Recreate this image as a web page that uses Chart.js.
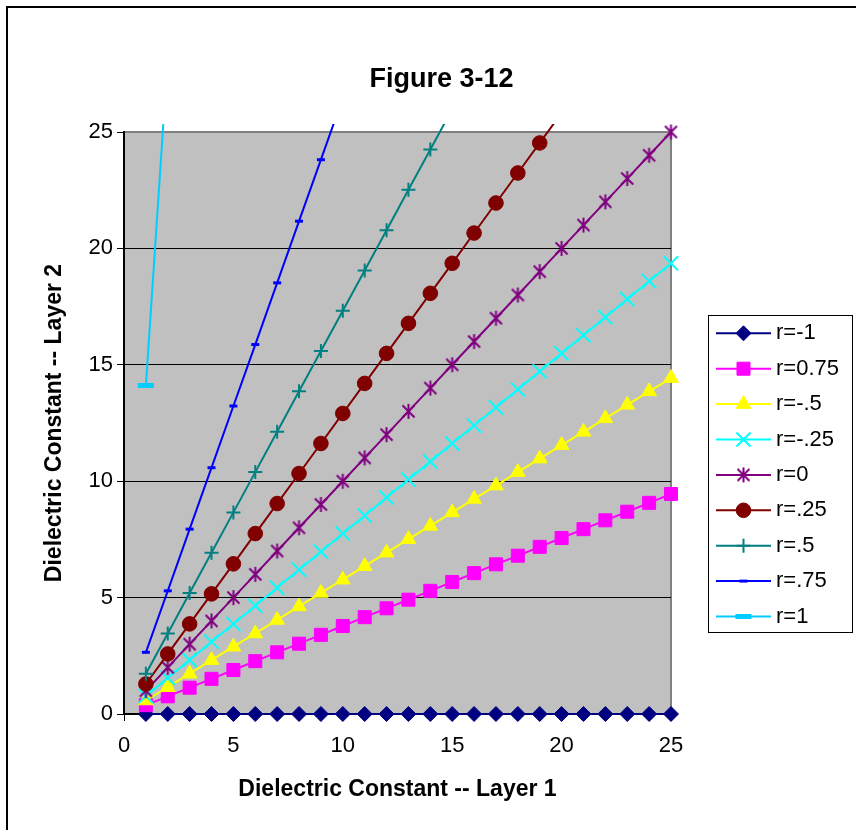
<!DOCTYPE html>
<html><head><meta charset="utf-8">
<script src="https://cdn.jsdelivr.net/npm/chart.js@4/dist/chart.umd.min.js"></script>
<style>html,body{margin:0;padding:0;background:#fff}#wrap{width:856px;height:830px}</style>
</head><body><div id="wrap"><canvas id="c" width="856" height="830"></canvas></div>
<script>
// ---- data ----
const xValues = [1,2,3,4,5,6,7,8,9,10,11,12,13,14,15,16,17,18,19,20,21,22,23,24,25];
const seriesLabels = ['r=-1','r=0.75','r=-.5','r=-.25','r=0','r=.25','r=.5','r=.75','r=1'];
const layer2_rm100 = [0,0,0,0,0,0,0,0,0,0,0,0,0,0,0,0,0,0,0,0,0,0,0,0,0];
const layer2_rm075 = [0.38,0.76,1.13,1.51,1.89,2.27,2.65,3.02,3.40,3.78,4.16,4.54,4.91,5.29,5.67,6.05,6.43,6.80,7.18,7.56,7.94,8.32,8.69,9.07,9.45];
const layer2_rm050 = [0.58,1.15,1.73,2.31,2.89,3.46,4.04,4.62,5.20,5.77,6.35,6.93,7.51,8.08,8.66,9.24,9.81,10.39,10.97,11.55,12.12,12.70,13.28,13.86,14.43];
const layer2_rm025 = [0.77,1.55,2.32,3.10,3.87,4.65,5.42,6.20,6.97,7.75,8.52,9.30,10.07,10.84,11.62,12.39,13.17,13.94,14.72,15.49,16.27,17.04,17.82,18.59,19.36];
const layer2_r000 = [1,2,3,4,5,6,7,8,9,10,11,12,13,14,15,16,17,18,19,20,21,22,23,24,25];
const layer2_r025 = [1.29,2.58,3.87,5.16,6.45,7.75,9.04,10.33,11.62,12.91,14.20,15.49,16.78,18.07,19.36,20.66,21.95,23.24,24.53,25.82,27.11,28.40,29.69,30.98,32.27];
const layer2_r050 = [1.73,3.46,5.20,6.93,8.66,10.39,12.12,13.86,15.59,17.32,19.05,20.78,22.52,24.25,25.98,27.71,29.44,31.18,32.91,34.64,36.37,38.11,39.84,41.57,43.30];
const layer2_r075 = [2.65,5.29,7.94,10.58,13.23,15.87,18.52,21.17,23.81,26.46,29.10,31.75,34.39,37.04,39.69,42.33,44.98,47.62,50.27,52.92,55.56,58.21,60.85,63.50,66.14];
const layer2_r100 = [14.11,28.21,42.32,56.43,70.53,84.64,98.75,112.85,126.96,141.07,155.17,169.28,183.39,197.49,211.60,225.71,239.81,253.92,268.03,282.13,296.24,310.35,324.46,338.56,352.67];
const xTicksStep = 5, yTicksStep = 5, axisMin = 0, axisMax = 25;

const seriesValues = [layer2_rm100, layer2_rm075, layer2_rm050, layer2_rm025, layer2_r000, layer2_r025, layer2_r050, layer2_r075, layer2_r100];
const seriesColors = ['#000080','#FF00FF','#FFFF00','#00FFFF','#800080','#800000','#008080','#0000FF','#00CCFF'];

const FONT = '"Liberation Sans", Arial, Helvetica, sans-serif';
Chart.defaults.font.family = FONT;
Chart.defaults.color = '#000';

// Excel-like asterisk marker (vertical bar + X)
function makeStar(color){
  const c = document.createElement('canvas'); c.width = 17; c.height = 17;
  const g = c.getContext('2d'); g.strokeStyle = color; g.lineWidth = 2;
  g.beginPath();
  g.moveTo(8.5,1); g.lineTo(8.5,16);
  g.moveTo(2.5,2.5); g.lineTo(14.5,14.5);
  g.moveTo(14.5,2.5); g.lineTo(2.5,14.5);
  g.stroke();
  return c;
}
const markerSpec = [
  {pointStyle:'rectRot', radius:7.5, bw:1},
  {pointStyle:'rect', radius:9.2, bw:1},
  {pointStyle:'triangle', radius:8.5, bw:1},
  {pointStyle:'crossRot', radius:10, bw:2},
  {pointStyle:makeStar('#800080'), radius:8, bw:0},
  {pointStyle:'circle', radius:7.3, bw:1},
  {pointStyle:'cross', radius:7, bw:2},
  {pointStyle:'line', radius:4, bw:3},
  {pointStyle:'line', radius:8, bw:5}
];

const datasets = seriesLabels.map((lab, i) => ({
  label: lab,
  data: xValues.map((x, j) => ({x: x, y: seriesValues[i][j]})),
  borderColor: seriesColors[i],
  backgroundColor: seriesColors[i],
  pointBackgroundColor: seriesColors[i],
  pointBorderColor: seriesColors[i],
  pointStyle: markerSpec[i].pointStyle,
  pointRadius: markerSpec[i].radius,
  pointBorderWidth: markerSpec[i].bw,
  pointHoverRadius: markerSpec[i].radius,
  borderWidth: 2,
  tension: 0,
  fill: false,
  clip: {left: 10, right: 10, top: 8, bottom: 10},
  order: seriesLabels.length - i
}));

const framePlugin = {
  id: 'frame',
  beforeDraw(chart){
    const {ctx, chartArea: a} = chart;
    ctx.save();
    ctx.fillStyle = '#fff'; ctx.fillRect(0, 0, chart.width, chart.height);
    ctx.strokeStyle = '#000'; ctx.lineWidth = 2;
    ctx.beginPath(); ctx.moveTo(7, chart.height); ctx.lineTo(7, 7); ctx.lineTo(chart.width, 7); ctx.stroke();
    ctx.fillStyle = '#C0C0C0'; ctx.fillRect(a.left, a.top, a.right - a.left, a.bottom - a.top);
    ctx.strokeStyle = '#808080'; ctx.lineWidth = 2;
    ctx.beginPath(); ctx.moveTo(a.left, a.top); ctx.lineTo(a.right, a.top); ctx.lineTo(a.right, a.bottom); ctx.stroke();
    ctx.restore();
  }
};

const legendPlugin = {
  id: 'boxLegend',
  afterDraw(chart){
    const ctx = chart.ctx;
    ctx.save();
    ctx.strokeStyle = '#000'; ctx.lineWidth = 1;
    ctx.strokeRect(708.5, 315.5, 144, 317);
    ctx.font = '22px ' + FONT;
    ctx.textBaseline = 'middle'; ctx.textAlign = 'left';
    chart.data.datasets.forEach((ds, i) => {
      const y = 333.3 + i * 35.4;
      ctx.strokeStyle = ds.borderColor; ctx.lineWidth = ds.borderWidth;
      ctx.beginPath(); ctx.moveTo(716, y); ctx.lineTo(771, y); ctx.stroke();
      ctx.fillStyle = ds.pointBackgroundColor; ctx.strokeStyle = ds.pointBorderColor; ctx.lineWidth = ds.pointBorderWidth;
      Chart.helpers.drawPoint(ctx, {pointStyle: ds.pointStyle, radius: ds.pointRadius, borderWidth: ds.pointBorderWidth, rotation: 0}, 743.5, y);
      ctx.fillStyle = '#000';
      ctx.fillText(ds.label, 776, y);
    });
    ctx.restore();
  }
};

new Chart(document.getElementById('c'), {
  type: 'line',
  data: {datasets: datasets},
  plugins: [framePlugin, legendPlugin],
  options: {
    responsive: false,
    animation: false,
    events: [],
    layout: {padding: {left: 40, right: 13, top: 0, bottom: 0}, autoPadding: false},
    plugins: {
      legend: {display: false},
      tooltip: {enabled: false},
      title: {display: true, text: 'Figure 3-12', color: '#000',
        font: {size: 27, weight: 'bold', family: FONT},
        padding: {top: 63.8, bottom: 35.8}}
    },
    scales: {
      x: {type: 'linear', position: 'bottom', min: axisMin, max: axisMax,
        ticks: {stepSize: xTicksStep, font: {size: 22}, color: '#000', padding: 12, maxRotation: 0},
        grid: {drawOnChartArea: false, drawTicks: true, tickLength: 7, color: '#000', lineWidth: 1},
        border: {display: true, color: '#000', width: 2},
        title: {display: true, text: 'Dielectric Constant -- Layer 1', color: '#000',
          font: {size: 23, weight: 'bold'}, padding: {top: 0, bottom: 27}},
        afterFit: s => { s.height = 116; }
      },
      y: {type: 'linear', position: 'left', min: axisMin, max: axisMax,
        ticks: {stepSize: yTicksStep, font: {size: 22}, color: '#000', padding: 4},
        grid: {drawTicks: true, tickLength: 7, lineWidth: 1, tickColor: '#000',
          color: c => (c.tick && c.tick.value === axisMax) ? 'rgba(0,0,0,0)' : '#000'},
        border: {display: true, color: '#000', width: 2},
        title: {display: true, text: 'Dielectric Constant -- Layer 2', color: '#000',
          font: {size: 23, weight: 'bold'}, padding: {top: 1, bottom: 0}},
        afterFit: s => { s.width = 84; }
      },
      y2: {type: 'linear', position: 'right', display: true, min: axisMin, max: axisMax,
        ticks: {display: false}, grid: {display: false, drawTicks: false}, border: {display: false},
        afterFit: s => { s.width = 172; }
      }
    }
  }
});
</script>
</body></html>
